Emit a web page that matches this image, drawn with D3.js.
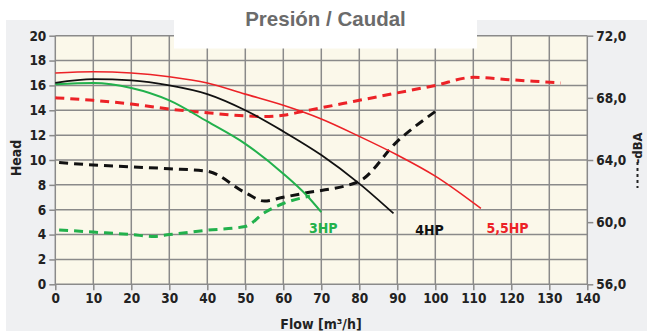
<!DOCTYPE html>
<html><head><meta charset="utf-8">
<script src="https://cdn.jsdelivr.net/npm/d3@7"></script>
<style>
html,body{margin:0;padding:0;background:#fff;}
svg{display:block;}
text{font-family:"Liberation Sans Narrow","DejaVu Sans Condensed",sans-serif;}
</style></head>
<body>
<svg id="c" width="651" height="331"></svg>
<script>
// ---- data ----
const flowTicks = [0,10,20,30,40,50,60,70,80,90,100,110,120,130,140];
const headTicks = [0,2,4,6,8,10,12,14,16,18,20];
const dbaTicks = [56,60,64,68,72];

// head curves [flow, head]
const hp3Flow = [0,10,20,30,40,50,60,66,70];
const hp3Head = [16.1,16.2,15.8,14.8,13.1,11.3,8.9,7.2,5.8];
const hp4Flow = [0,10,20,30,40,50,60,70,80,89];
const hp4Head = [16.2,16.5,16.4,16.0,15.3,14.0,12.3,10.4,8.1,5.7];
const hp55Flow = [0,10,20,30,40,50,60,70,80,90,100,112];
const hp55Head = [17.0,17.1,17.0,16.7,16.2,15.3,14.4,13.3,11.9,10.4,8.7,6.1];

// noise curves [flow, dBA]
const n3Flow = [1,10,20,26,30,40,50,55,60,67];
const n3Dba = [59.5,59.36,59.2,59.08,59.2,59.48,59.72,60.6,61.2,61.68];
const n4Flow = [1,10,20,30,40,50,55,60,65,80,90,100];
const n4Dba = [63.84,63.68,63.56,63.44,63.28,61.9,61.36,61.6,61.84,62.64,65.2,67.12];
const n55Flow = [0,10,20,30,40,50,55,60,65,70,80,90,100,110,120,133];
const n55Dba = [68.0,67.84,67.6,67.28,67.04,66.84,66.8,66.88,67.12,67.36,67.84,68.32,68.8,69.32,69.16,68.96];

const seriesLabels = ["3HP","4HP","5,5HP"];
const labelFlow = [70.5,98.5,119];

// ---- drawing ----
const svg = d3.select("#c");
const W=651,H=331;
const x = d3.scaleLinear().domain([0,140]).range([55.3,587.3]);
const y = d3.scaleLinear().domain([0,20]).range([284.3,35.7]);
const yR = d3.scaleLinear().domain([56,72]).range([284.3,35.7]);

const RED="#ec2227", GREEN="#22b14c", BLACK="#111111", GRID="#8a8a8a";

// outer grey panel
svg.append("rect").attr("x",6).attr("y",20).attr("width",641).attr("height",H-20).attr("fill","#eff0f2");
// plot background
svg.append("rect").attr("x",x(0)).attr("y",y(20)).attr("width",x(140)-x(0)).attr("height",y(0)-y(20)).attr("fill","#fbf8ea");

// grid
const g = svg.append("g");
flowTicks.forEach(t=>g.append("line").attr("x1",x(t)).attr("x2",x(t)).attr("y1",y(0)).attr("y2",y(20)).attr("stroke",GRID).attr("stroke-width",1.5));
headTicks.forEach(t=>g.append("line").attr("x1",x(0)).attr("x2",x(140)).attr("y1",y(t)).attr("y2",y(t)).attr("stroke",GRID).attr("stroke-width",1.5));

// white title box
svg.append("rect").attr("x",174).attr("y",0).attr("width",303).attr("height",48.5).attr("fill","#ffffff");
svg.append("text").attr("x",325.5).attr("y",26).attr("text-anchor","middle")
  .style("font-family","'Liberation Sans',Arial,sans-serif").style("font-weight","bold").style("font-size","20.5px")
  .attr("fill","#6b6b6b").text("Presión / Caudal");

// axes
function styleAxis(sel){
  sel.select(".domain").remove();
  sel.selectAll(".tick line").attr("stroke",GRID).attr("stroke-width",1.5);
  sel.selectAll(".tick text").attr("fill","#222").style("font-size","13.5px").style("font-weight","bold")
     .style("font-family","'Liberation Sans Narrow','DejaVu Sans Condensed',sans-serif");
}
svg.append("g").attr("transform",`translate(${x(0)},0)`)
  .call(d3.axisLeft(y).tickValues(headTicks).tickSize(6).tickPadding(3).tickFormat(d3.format("d"))).call(styleAxis);
svg.append("g").attr("transform",`translate(0,${y(0)})`)
  .call(d3.axisBottom(x).tickValues(flowTicks).tickSize(6).tickPadding(3).tickFormat(d3.format("d"))).call(styleAxis);
svg.append("g").attr("transform",`translate(${x(140)},0)`)
  .call(d3.axisRight(yR).tickValues(dbaTicks).tickSize(6).tickPadding(3).tickFormat(d=>d.toFixed(1).replace(".",","))).call(styleAxis);

// axis titles
svg.append("text").attr("transform","translate(21,158) rotate(-90)").attr("text-anchor","middle")
  .style("font-size","14px").style("font-weight","bold").attr("fill","#222").text("Head");
svg.append("text").attr("x",321).attr("y",329).attr("text-anchor","middle")
  .style("font-size","14px").style("font-weight","bold").attr("fill","#222").text("Flow [m³/h]");
svg.append("text").attr("transform","translate(642,148) rotate(-90)").attr("text-anchor","middle")
  .style("font-size","13px").style("font-weight","bold").attr("fill","#222").text("-dBA");
svg.append("line").attr("x1",637.5).attr("x2",637.5).attr("y1",162).attr("y2",188)
  .attr("stroke","#222").attr("stroke-width",2).attr("stroke-dasharray","3,3");

// curves
const lineH = d3.line().x(d=>x(d[0])).y(d=>y(d[1])).curve(d3.curveMonotoneX);
const lineN = d3.line().x(d=>x(d[0])).y(d=>yR(d[1])).curve(d3.curveMonotoneX);
const zip=(a,b)=>a.map((v,i)=>[v,b[i]]);

const noise = [[n3Flow,n3Dba,GREEN],[n4Flow,n4Dba,BLACK],[n55Flow,n55Dba,RED]];
noise.forEach(([f,v,c])=>svg.append("path").datum(zip(f,v)).attr("d",lineN)
  .attr("fill","none").attr("stroke",c).attr("stroke-width",3).attr("stroke-dasharray","9,6"));

const heads = [[hp3Flow,hp3Head,GREEN,2],[hp4Flow,hp4Head,BLACK,1.8],[hp55Flow,hp55Head,RED,1.6]];
heads.forEach(([f,v,c,w])=>svg.append("path").datum(zip(f,v)).attr("d",lineH)
  .attr("fill","none").attr("stroke",c).attr("stroke-width",w));

// series labels
const lc=[GREEN,BLACK,RED];
const ly=[233,235,233];
seriesLabels.forEach((s,i)=>svg.append("text").attr("x",x(labelFlow[i])).attr("y",ly[i]).attr("text-anchor","middle")
  .style("font-size","14px").style("font-weight","bold").attr("fill",lc[i]).text(s));
</script>
</body></html>
